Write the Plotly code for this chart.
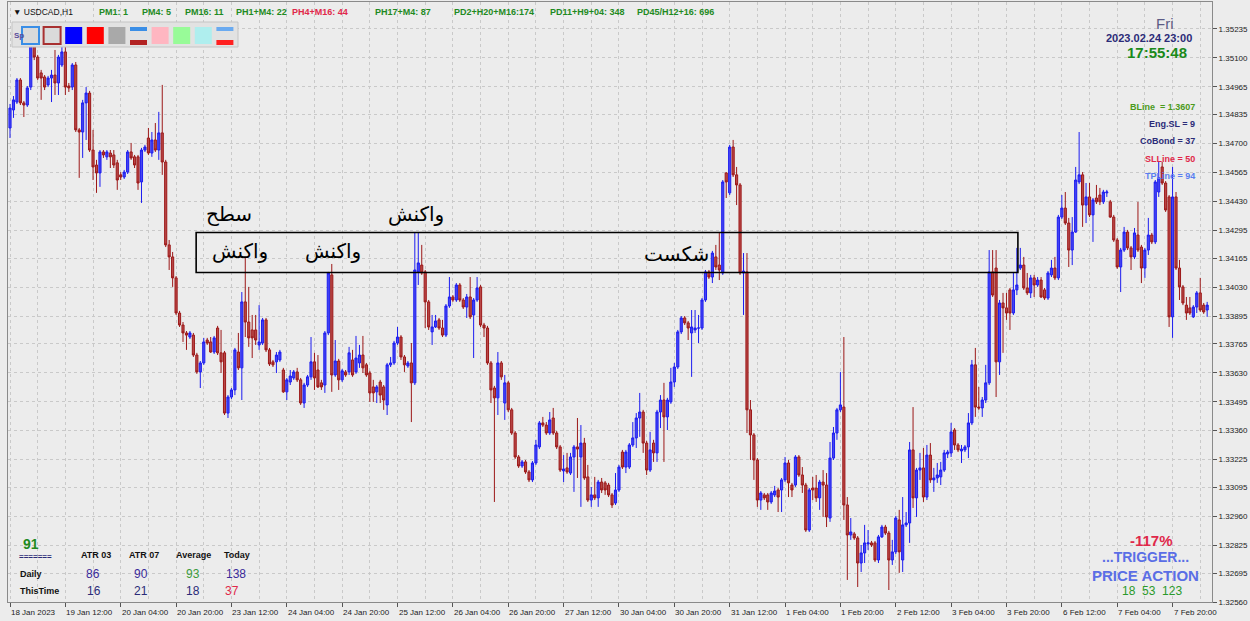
import plotly.graph_objects as go

# ---------------- data (USDCAD H1) ----------------
open_ = [
 1.34773,1.34857,1.34894,1.34997,1.34890,1.34880,1.34964,1.35174,1.35104,1.35030,
 1.35011,1.34974,1.35006,1.35020,1.34983,1.35067,1.35128,1.34969,1.34964,1.35067,
 1.34764,1.34754,1.34890,1.34936,1.34670,1.34600,1.34563,1.34661,1.34638,1.34656,
 1.34647,1.34610,1.34554,1.34544,1.34567,1.34661,1.34638,1.34638,1.34521,1.34670,
 1.34726,1.34656,1.34717,1.34670,1.34750,1.34614,1.34227,1.34171,1.34073,1.33909,
 1.33853,1.33816,1.33797,1.33806,1.33713,1.33634,1.33676,1.33783,1.33774,1.33727,
 1.33839,1.33723,1.33723,1.33442,1.33517,1.33550,1.33727,1.33653,1.33961,1.33867,
 1.33830,1.33830,1.33760,1.33769,1.33877,1.33737,1.33681,1.33681,1.33690,1.33643,
 1.33541,1.33587,1.33606,1.33634,1.33597,1.33489,1.33573,1.33611,1.33681,1.33643,
 1.33583,1.33573,1.33816,1.34087,1.33620,1.33685,1.33597,1.33634,1.33634,1.33690,
 1.33634,1.33676,1.33713,1.33667,1.33629,1.33564,1.33541,1.33587,1.33564,1.33480,
 1.33667,1.33676,1.33769,1.33797,1.33704,1.33662,1.33676,1.33583,1.34101,1.34133,
 1.34101,1.33961,1.33821,1.33844,1.33877,1.33839,1.33806,1.33942,1.33984,1.33970,
 1.34040,1.33970,1.33937,1.33984,1.33900,1.33970,1.34031,1.33853,1.33839,1.33676,
 1.33559,1.33513,1.33676,1.33489,1.33583,1.33457,1.33349,1.33237,1.33195,1.33214,
 1.33167,1.33130,1.33209,1.33284,1.33396,1.33386,1.33349,1.33419,1.33349,1.33284,
 1.33172,1.33186,1.33162,1.33237,1.33284,1.33237,1.33302,1.33144,1.33036,1.33060,
 1.33046,1.33120,1.33116,1.33106,1.33060,1.33022,1.33083,1.33260,1.33190,1.33190,
 1.33293,1.33326,1.33419,1.33447,1.33302,1.33176,1.33302,1.33256,1.33447,1.33503,
 1.33424,1.33494,1.33587,1.33657,1.33821,1.33886,1.33863,1.33816,1.33830,1.33839,
 1.33839,1.33970,1.34101,1.34077,1.34171,1.34133,1.34096,1.34563,1.34470,1.34684,
 1.34554,1.34507,1.34096,1.34101,1.33457,1.33340,1.33223,1.33036,1.33060,1.33060,
 1.33027,1.33060,1.33083,1.33083,1.33130,1.33209,1.33106,1.33106,1.33237,1.33153,
 1.33106,1.32896,1.33092,1.33092,1.33046,1.33120,1.33106,1.32952,1.33232,1.33349,
 1.33457,1.33470,1.33013,1.32873,1.32878,1.32859,1.32742,1.32789,1.32831,1.32836,
 1.32836,1.32756,1.32864,1.32910,1.32882,1.32756,1.32794,1.32943,1.32756,1.32920,
 1.32929,1.33270,1.33046,1.33176,1.33186,1.33050,1.33246,1.33130,1.33139,1.33144,
 1.33176,1.33251,1.33256,1.33363,1.33293,1.33265,1.33270,1.33284,1.33396,1.33667,
 1.33470,1.33466,1.33503,1.33583,1.34101,1.34119,1.33681,1.33956,1.33933,1.34017,
 1.33909,1.34017,1.34119,1.34133,1.34026,1.34003,1.34073,1.34040,1.34063,1.34017,
 1.33979,1.34087,1.34119,1.34073,1.34357,1.34399,1.34329,1.34203,1.34287,1.34521,
 1.34554,1.34413,1.34451,1.34367,1.34446,1.34460,1.34428,1.34470,1.34428,1.34357,
 1.34250,1.34124,1.34203,1.34287,1.34213,1.34171,1.34273,1.34217,1.34119,1.34203,
 1.34273,1.34241,1.34474,1.34591,1.34516,1.34451,1.33891,1.34451,1.34119,1.34031,
 1.33946,1.33933,1.33891,1.33937,1.34003,1.33946,1.33923,
]
high = [
 1.34885,1.34922,1.35006,1.35006,1.34899,1.34969,1.35184,1.35184,1.35114,1.35044,
 1.35020,1.35016,1.35044,1.35137,1.35114,1.35207,1.35207,1.34983,1.35076,1.35081,
 1.34773,1.34904,1.34964,1.34946,1.34764,1.34624,1.34670,1.34670,1.34670,1.34670,
 1.34670,1.34624,1.34567,1.34577,1.34670,1.34703,1.34647,1.34647,1.34680,1.34694,
 1.34773,1.34754,1.34796,1.34848,1.34974,1.34624,1.34250,1.34194,1.34082,1.33919,
 1.33867,1.33825,1.33825,1.33816,1.33723,1.33685,1.33793,1.33793,1.33797,1.33802,
 1.33849,1.33830,1.33732,1.33526,1.33559,1.33746,1.33816,1.34007,1.34171,1.34031,
 1.33900,1.33900,1.33946,1.33886,1.33886,1.33746,1.33690,1.33727,1.33737,1.33653,
 1.33606,1.33643,1.33643,1.33653,1.33606,1.33583,1.33620,1.33797,1.33723,1.33713,
 1.33597,1.33825,1.34101,1.34138,1.33783,1.33695,1.33648,1.33643,1.33751,1.33737,
 1.33802,1.33760,1.33802,1.33676,1.33639,1.33597,1.33573,1.33597,1.33573,1.33676,
 1.33704,1.33779,1.33844,1.33806,1.33713,1.33685,1.33769,1.34283,1.34283,1.34227,
 1.34110,1.33970,1.33900,1.33900,1.33886,1.33877,1.33951,1.34077,1.33993,1.34049,
 1.34049,1.33979,1.33998,1.34077,1.33979,1.34077,1.34040,1.33863,1.33849,1.33685,
 1.33569,1.33727,1.33685,1.33620,1.33592,1.33466,1.33358,1.33246,1.33223,1.33223,
 1.33176,1.33218,1.33317,1.33405,1.33424,1.33400,1.33447,1.33466,1.33358,1.33293,
 1.33246,1.33256,1.33256,1.33293,1.33419,1.33386,1.33326,1.33200,1.33097,1.33144,
 1.33130,1.33139,1.33125,1.33116,1.33069,1.33162,1.33200,1.33270,1.33270,1.33302,
 1.33400,1.33442,1.33536,1.33457,1.33312,1.33354,1.33317,1.33457,1.33526,1.33583,
 1.33513,1.33653,1.33676,1.33830,1.33895,1.33895,1.33872,1.33923,1.33923,1.33900,
 1.33979,1.34110,1.34110,1.34199,1.34227,1.34287,1.34530,1.34567,1.34694,1.34717,
 1.34591,1.34516,1.34189,1.34189,1.33503,1.33349,1.33232,1.33078,1.33069,1.33069,
 1.33078,1.33102,1.33092,1.33139,1.33237,1.33223,1.33116,1.33246,1.33246,1.33190,
 1.33116,1.33092,1.33144,1.33153,1.33130,1.33176,1.33162,1.33307,1.33377,1.33466,
 1.33634,1.33797,1.33050,1.32952,1.32887,1.32868,1.32826,1.32920,1.32896,1.32845,
 1.32845,1.32873,1.32920,1.32920,1.32892,1.32850,1.32962,1.32990,1.33050,1.32980,
 1.33307,1.33470,1.33186,1.33256,1.33279,1.33293,1.33302,1.33186,1.33209,1.33214,
 1.33270,1.33270,1.33396,1.33372,1.33302,1.33293,1.33293,1.33442,1.33690,1.33746,
 1.33564,1.33517,1.33667,1.34203,1.34203,1.34203,1.33970,1.34003,1.34003,1.34026,
 1.34096,1.34213,1.34213,1.34171,1.34096,1.34087,1.34087,1.34077,1.34077,1.34026,
 1.34105,1.34157,1.34171,1.34367,1.34460,1.34474,1.34353,1.34357,1.34591,1.34754,
 1.34567,1.34516,1.34516,1.34446,1.34507,1.34493,1.34484,1.34484,1.34437,1.34367,
 1.34259,1.34213,1.34311,1.34297,1.34222,1.34306,1.34428,1.34227,1.34213,1.34353,
 1.34283,1.34530,1.34614,1.34614,1.34525,1.34460,1.34591,1.34474,1.34157,1.34040,
 1.33984,1.33984,1.33946,1.34012,1.34073,1.33956,1.33961,
]
low = [
 1.34726,1.34820,1.34885,1.34880,1.34824,1.34871,1.34950,1.35090,1.34997,1.34904,
 1.34950,1.34964,1.34894,1.34927,1.34927,1.35058,1.34927,1.34941,1.34950,1.34754,
 1.34540,1.34633,1.34717,1.34661,1.34530,1.34470,1.34498,1.34633,1.34624,1.34586,
 1.34586,1.34484,1.34530,1.34535,1.34558,1.34624,1.34586,1.34484,1.34423,1.34661,
 1.34647,1.34638,1.34661,1.34624,1.34554,1.34217,1.34110,1.34031,1.33900,1.33844,
 1.33774,1.33737,1.33788,1.33704,1.33625,1.33559,1.33667,1.33760,1.33723,1.33718,
 1.33713,1.33629,1.33433,1.33419,1.33508,1.33526,1.33643,1.33503,1.33797,1.33751,
 1.33699,1.33760,1.33737,1.33760,1.33727,1.33662,1.33657,1.33629,1.33681,1.33536,
 1.33503,1.33573,1.33597,1.33587,1.33480,1.33466,1.33564,1.33597,1.33550,1.33559,
 1.33550,1.33536,1.33806,1.33541,1.33611,1.33550,1.33587,1.33611,1.33620,1.33611,
 1.33625,1.33653,1.33629,1.33611,1.33494,1.33494,1.33489,1.33489,1.33457,1.33433,
 1.33657,1.33667,1.33760,1.33690,1.33634,1.33653,1.33400,1.33573,1.34040,1.34087,
 1.33839,1.33830,1.33760,1.33839,1.33830,1.33797,1.33797,1.33933,1.33961,1.33961,
 1.33961,1.33928,1.33886,1.33881,1.33699,1.33961,1.33844,1.33797,1.33667,1.33489,
 1.33027,1.33433,1.33597,1.33410,1.33447,1.33340,1.33228,1.33186,1.33186,1.33158,
 1.33120,1.33120,1.33200,1.33274,1.33377,1.33340,1.33340,1.33340,1.33274,1.33167,
 1.33120,1.33158,1.33153,1.33074,1.33139,1.33004,1.33130,1.33027,1.33004,1.33036,
 1.33004,1.33069,1.33060,1.33050,1.32999,1.33013,1.33074,1.33181,1.33162,1.33181,
 1.33284,1.33279,1.33331,1.33256,1.33153,1.33167,1.33214,1.33214,1.33372,1.33214,
 1.33363,1.33485,1.33564,1.33648,1.33811,1.33853,1.33783,1.33611,1.33816,1.33769,
 1.33830,1.33961,1.34068,1.34049,1.34110,1.34063,1.34087,1.34446,1.34460,1.34544,
 1.34413,1.34087,1.33900,1.33349,1.33223,1.33130,1.33004,1.32990,1.33036,1.32990,
 1.33018,1.33050,1.32980,1.32980,1.33120,1.33050,1.33050,1.33097,1.33144,1.33069,
 1.32887,1.32887,1.33036,1.33027,1.32990,1.32957,1.32910,1.32934,1.33223,1.33317,
 1.33447,1.32943,1.32663,1.32850,1.32850,1.32630,1.32700,1.32742,1.32803,1.32817,
 1.32747,1.32742,1.32859,1.32873,1.32616,1.32733,1.32784,1.32696,1.32700,1.32910,
 1.32836,1.32999,1.32957,1.33130,1.33027,1.33036,1.33116,1.33074,1.33116,1.33106,
 1.33167,1.33232,1.33237,1.33270,1.33260,1.33209,1.33260,1.33232,1.33386,1.33424,
 1.33457,1.33424,1.33489,1.33573,1.33984,1.33517,1.33620,1.33723,1.33877,1.33830,
 1.33900,1.33993,1.34110,1.34017,1.33993,1.33979,1.33984,1.34031,1.33979,1.33970,
 1.33970,1.34077,1.34063,1.34063,1.34348,1.34320,1.34124,1.34133,1.34283,1.34511,
 1.34311,1.34329,1.34357,1.34241,1.34418,1.34413,1.34418,1.34451,1.34353,1.34241,
 1.34115,1.34007,1.34194,1.34203,1.34110,1.34161,1.34194,1.34049,1.34073,1.34180,
 1.34231,1.34231,1.34451,1.34507,1.34381,1.33844,1.33793,1.34110,1.33970,1.33946,
 1.33877,1.33900,1.33886,1.33909,1.33914,1.33905,1.33891,
]
close = [
 1.34866,1.34904,1.34997,1.34890,1.34880,1.34960,1.35174,1.35104,1.35006,1.35006,
 1.34964,1.35006,1.35020,1.34983,1.35104,1.35128,1.34964,1.34960,1.35067,1.34764,
 1.34754,1.34890,1.34936,1.34670,1.34591,1.34563,1.34661,1.34647,1.34661,1.34638,
 1.34600,1.34530,1.34544,1.34567,1.34661,1.34633,1.34600,1.34516,1.34670,1.34684,
 1.34656,1.34717,1.34670,1.34750,1.34614,1.34227,1.34171,1.34073,1.33909,1.33853,
 1.33816,1.33806,1.33816,1.33713,1.33634,1.33676,1.33774,1.33769,1.33727,1.33793,
 1.33723,1.33681,1.33442,1.33517,1.33550,1.33737,1.33653,1.33961,1.33867,1.33793,
 1.33793,1.33783,1.33774,1.33877,1.33737,1.33671,1.33667,1.33713,1.33727,1.33541,
 1.33597,1.33615,1.33634,1.33597,1.33489,1.33573,1.33611,1.33681,1.33606,1.33564,
 1.33564,1.33816,1.34096,1.33620,1.33685,1.33597,1.33639,1.33620,1.33723,1.33620,
 1.33699,1.33713,1.33653,1.33620,1.33536,1.33536,1.33564,1.33526,1.33503,1.33667,
 1.33676,1.33769,1.33797,1.33704,1.33667,1.33676,1.33583,1.34110,1.34143,1.34096,
 1.33961,1.33844,1.33844,1.33872,1.33839,1.33806,1.33942,1.33984,1.33970,1.34040,
 1.33970,1.33937,1.33984,1.33891,1.33970,1.34026,1.33853,1.33839,1.33676,1.33550,
 1.33513,1.33676,1.33611,1.33583,1.33457,1.33349,1.33237,1.33195,1.33214,1.33167,
 1.33130,1.33209,1.33293,1.33396,1.33386,1.33349,1.33410,1.33349,1.33284,1.33176,
 1.33181,1.33167,1.33237,1.33284,1.33274,1.33302,1.33139,1.33036,1.33060,1.33046,
 1.33120,1.33083,1.33083,1.33060,1.33013,1.33083,1.33190,1.33190,1.33260,1.33293,
 1.33326,1.33419,1.33447,1.33302,1.33176,1.33270,1.33256,1.33447,1.33503,1.33424,
 1.33503,1.33587,1.33657,1.33821,1.33886,1.33863,1.33839,1.33844,1.33839,1.33839,
 1.33970,1.34101,1.34077,1.34189,1.34124,1.34110,1.34521,1.34521,1.34684,1.34554,
 1.34507,1.34096,1.34105,1.33457,1.33340,1.33223,1.33036,1.33069,1.33046,1.33027,
 1.33069,1.33078,1.33050,1.33130,1.33209,1.33116,1.33083,1.33237,1.33153,1.33106,
 1.32896,1.33083,1.33083,1.33046,1.33120,1.33106,1.32957,1.33232,1.33349,1.33457,
 1.33480,1.33013,1.32873,1.32887,1.32859,1.32742,1.32789,1.32836,1.32836,1.32826,
 1.32756,1.32864,1.32910,1.32882,1.32756,1.32794,1.32952,1.32794,1.32920,1.32929,
 1.33270,1.33046,1.33176,1.33186,1.33050,1.33246,1.33130,1.33139,1.33153,1.33176,
 1.33256,1.33260,1.33354,1.33293,1.33270,1.33274,1.33284,1.33396,1.33667,1.33470,
 1.33466,1.33503,1.33583,1.34101,1.33993,1.33681,1.33956,1.33933,1.33909,1.33909,
 1.34017,1.34040,1.34133,1.34026,1.34003,1.34073,1.34040,1.34063,1.33984,1.33979,
 1.34096,1.34119,1.34073,1.34357,1.34399,1.34329,1.34203,1.34287,1.34530,1.34554,
 1.34413,1.34451,1.34367,1.34437,1.34428,1.34428,1.34474,1.34474,1.34357,1.34250,
 1.34124,1.34203,1.34287,1.34213,1.34171,1.34283,1.34203,1.34119,1.34203,1.34273,
 1.34241,1.34521,1.34540,1.34516,1.34390,1.33891,1.34451,1.34119,1.34031,1.33956,
 1.33909,1.33909,1.33937,1.34003,1.33923,1.33914,1.33946,
]

xtick_bars = [0, 16, 32, 48, 64, 80, 96, 112, 128, 144, 160, 176, 192, 208, 224,
              240, 256, 272, 288, 304, 320, 336]
xtick_labels = ["18 Jan 2023", "19 Jan 12:00", "20 Jan 04:00", "20 Jan 20:00",
                "23 Jan 12:00", "24 Jan 04:00", "24 Jan 20:00", "25 Jan 12:00",
                "26 Jan 04:00", "26 Jan 20:00", "27 Jan 12:00", "30 Jan 04:00",
                "30 Jan 20:00", "31 Jan 12:00", "1 Feb 04:00", "1 Feb 20:00",
                "2 Feb 12:00", "3 Feb 04:00", "3 Feb 20:00", "6 Feb 12:00",
                "7 Feb 04:00", "7 Feb 20:00"]
ytick_labels = ["1.35235", "1.35100", "1.34965", "1.34835", "1.34700", "1.34565",
                "1.34430", "1.34295", "1.34165", "1.34030", "1.33895", "1.33765",
                "1.33630", "1.33495", "1.33360", "1.33225", "1.33095", "1.32960",
                "1.32825", "1.32695", "1.32560"]

# zone (rectangle) and Persian notes
zone_bars = [53.8, 291.3]
zone_prices = [1.34098, 1.34285]
note_texts = ["سطح", "واکنش", "واکنش", "واکنش", "شکست"]
note_bars = [63.3, 66.5, 93.4, 117.3, 192.5]
note_prices = [1.34371, 1.34199, 1.34199, 1.34371, 1.34185]

# ---------------- layout helpers ----------------
W, H = 1250, 621
LM, RM, TM, BM = 8, 38, 2, 19
PW, PH = W - LM - RM, H - TM - BM
BG = "#ECECEC"

def px(x):
    return (x - LM) / PW

def py(y):
    return 1 - (y - TM) / PH

bars = list(range(len(close)))

fig = go.Figure()
fig.add_trace(go.Candlestick(
    x=bars, open=open_, high=high, low=low, close=close,
    increasing=dict(line=dict(color="#1c1cf0", width=1), fillcolor="#4646f2"),
    decreasing=dict(line=dict(color="#9c1818", width=1), fillcolor="#b94848"),
    whiskerwidth=0, hoverinfo="skip", showlegend=False,
))

shapes = []
# zone rectangle
shapes.append(dict(type="rect", xref="x", yref="y",
                   x0=zone_bars[0], x1=zone_bars[1], y0=zone_prices[0], y1=zone_prices[1],
                   line=dict(color="#000000", width=1.6), fillcolor="rgba(0,0,0,0)", layer="above"))

# toolbar panel
shapes.append(dict(type="rect", xref="paper", yref="paper", x0=px(12), x1=px(238), y0=py(47), y1=py(22),
                   fillcolor="#E2E2E2", line=dict(color="#C4C4C4", width=1), layer="above"))
sq_y0, sq_y1 = 27, 44
swatches = [
    ("outline", "#3a8ee6"), ("outline", "#a83030"), ("fill", "#0000ff"), ("fill", "#ff0000"),
    ("fill", "#a9a9a9"), ("lines", ("#3a8ee6", "#b22222")), ("fill", "#ffb6c1"),
    ("fill", "#98fb98"), ("fill", "#afeeee"), ("lines2", ("#6aaaf0", "#ff2020")),
]
for k, (kind, col) in enumerate(swatches):
    x0 = 22 + 21.6 * k
    x1 = x0 + 17
    if kind == "outline":
        shapes.append(dict(type="rect", xref="paper", yref="paper", x0=px(x0), x1=px(x1),
                           y0=py(sq_y1), y1=py(sq_y0), fillcolor="#DADADA",
                           line=dict(color=col, width=2), layer="above"))
    elif kind == "fill":
        shapes.append(dict(type="rect", xref="paper", yref="paper", x0=px(x0), x1=px(x1),
                           y0=py(sq_y1), y1=py(sq_y0), fillcolor=col,
                           line=dict(width=0), layer="above"))
    else:
        shapes.append(dict(type="rect", xref="paper", yref="paper", x0=px(x0), x1=px(x1),
                           y0=py(31), y1=py(27), fillcolor=col[0], line=dict(width=0), layer="above"))
        shapes.append(dict(type="rect", xref="paper", yref="paper", x0=px(x0), x1=px(x1),
                           y0=py(45), y1=py(40), fillcolor=col[1], line=dict(width=0), layer="above"))

annotations = []

def txt(text, x, y, size=9, color="#222222", bold=False, anchor="left", family="Liberation Sans"):
    t = f"<b>{text}</b>" if bold else text
    annotations.append(dict(text=t, x=px(x), y=py(y), xref="paper", yref="paper",
                            xanchor=anchor, yanchor="middle", showarrow=False,
                            font=dict(size=size, color=color, family=family)))

GREEN = "#1f8a1f"
RED = "#e0284a"
NAVY = "#2b2b78"

# header line
txt("▼ USDCAD,H1", 11, 12, size=8.5, color="#111111")
header = [("PM1: 1", 97, GREEN), ("PM4: 5", 140, GREEN), ("PM16: 11", 183, GREEN),
          ("PH1+M4: 22", 234, GREEN), ("PH4+M16: 44", 290, RED), ("PH17+M4: 87", 373, GREEN),
          ("PD2+H20+M16:174", 452, GREEN), ("PD11+H9+04: 348", 548, GREEN),
          ("PD45/H12+16: 696", 635, GREEN)]
for t, x, c in header:
    txt(t, x, 12, size=9, color=c, bold=True)
txt("Sp", 12, 35, size=8, color="#5a4a9a", bold=True)

# top-right info
txt("Fri", 1165, 23, size=15, color="#5c5c86", anchor="center")
txt("2023.02.24 23:00", 1149, 38, size=11, color=NAVY, bold=True, anchor="center")
txt("17:55:48", 1157, 52, size=15, color="#1a8a1a", bold=True, anchor="center")
txt("BLine  = 1.3607", 1197, 107, size=9, color="#4a9a1a", bold=True, anchor="right")
txt("Eng.SL = 9", 1197, 124, size=9, color=NAVY, bold=True, anchor="right")
txt("CoBond = 37", 1197, 141, size=9, color=NAVY, bold=True, anchor="right")
txt("SLLine = 50", 1197, 159, size=9, color=RED, bold=True, anchor="right")
txt("TPLine = 94", 1197, 176, size=9, color="#5a7ef0", bold=True, anchor="right")

# bottom-left ATR table
txt("91", 21, 544, size=14, color=GREEN, bold=True)
txt("=======", 17, 556, size=8, color=NAVY, bold=True)
for t, x in [("ATR 03", 79), ("ATR 07", 127), ("Average", 174), ("Today", 222)]:
    txt(t, x, 555, size=9, color="#111111", bold=True)
txt("Daily", 18, 574, size=9, color="#111111", bold=True)
txt("ThisTime", 18, 591, size=9, color="#111111", bold=True)
for t, x, c in [("86", 93, "#3a2a9a"), ("90", 141, "#3a2a9a"), ("93", 193, "#3a9a3a"), ("138", 236, "#3a2a9a")]:
    txt(t, x, 574, size=12, color=c, anchor="center")
for t, x, c in [("16", 94, NAVY), ("21", 141, NAVY), ("18", 193, NAVY), ("37", 232, RED)]:
    txt(t, x, 591, size=12, color=c, anchor="center")

# bottom-right
txt("-117%", 1151, 540, size=15, color=RED, bold=True, anchor="center")
txt("...TRIGGER...", 1145, 557, size=14, color="#5a6ee6", bold=True, anchor="center")
txt("PRICE ACTION", 1145, 575, size=15, color="#5a6ee6", bold=True, anchor="center")
txt("18  53  123", 1152, 591, size=12, color="#2a9a2a", anchor="center")

# x-axis labels (left-aligned at tick like MT4)
for b, lab in zip(xtick_bars, xtick_labels):
    annotations.append(dict(text=lab, x=b, y=py(612), xref="x", yref="paper", xanchor="left",
                            yanchor="middle", xshift=-1, showarrow=False,
                            font=dict(size=8, color="#222222", family="Liberation Sans")))

# Persian notes
for t, b, p in zip(note_texts, note_bars, note_prices):
    annotations.append(dict(text=t, x=b, y=p, xref="x", yref="y", xanchor="center", yanchor="middle",
                            showarrow=False, font=dict(size=20, color="#000000", family="DejaVu Sans")))

minor_bars = [b + 8 for b in xtick_bars]

fig.update_layout(
    width=W, height=H,
    margin=dict(l=LM, r=RM, t=TM, b=BM, autoexpand=False),
    paper_bgcolor=BG, plot_bgcolor=BG,
    showlegend=False, hovermode=False,
    boxgap=0.12,
    shapes=shapes, annotations=annotations,
    xaxis=dict(
        range=[-0.58, 347.4], rangeslider=dict(visible=False),
        tickmode="array", tickvals=xtick_bars, showticklabels=False,
        ticks="outside", ticklen=4, tickcolor="#555555",
        showgrid=True, gridcolor="#C9C9C9", griddash="3px,3px", gridwidth=1,
        minor=dict(tickmode="array", tickvals=minor_bars, showgrid=True,
                   gridcolor="#C9C9C9", griddash="3px,3px", ticks=""),
        showline=True, linecolor="#8a8a8a", linewidth=1, mirror=True,
        zeroline=False, fixedrange=True,
    ),
    yaxis=dict(
        range=[1.32560, 1.35361], side="right",
        tickmode="array", tickvals=[float(t) for t in ytick_labels], ticktext=ytick_labels,
        ticks="outside", ticklen=4, tickcolor="#555555",
        tickfont=dict(size=8, color="#222222", family="Liberation Sans"),
        showgrid=True, gridcolor="#C9C9C9", griddash="3px,3px", gridwidth=1,
        showline=True, linecolor="#8a8a8a", linewidth=1, mirror=True,
        zeroline=False, fixedrange=True,
    ),
)

fig.write_html("out.html",
               config={"displayModeBar": False, "staticPlot": True},
               post_script="document.body.style.margin='0';document.body.style.padding='0';"
                           "document.body.style.overflow='hidden';"
                           "document.body.style.background='#ECECEC';")
